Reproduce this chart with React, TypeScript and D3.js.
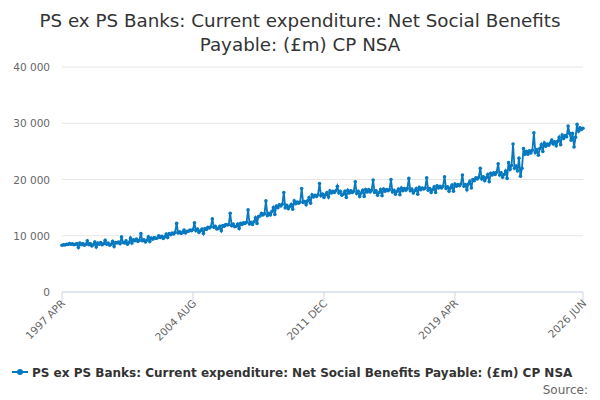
import React from 'react';
import * as d3 from 'd3';

const MONTHS = ['JAN', 'FEB', 'MAR', 'APR', 'MAY', 'JUN', 'JUL', 'AUG', 'SEP', 'OCT', 'NOV', 'DEC'];
const START_YEAR = 1997;
const START_MONTH = 3; // APR

// monthly values (£m), by calendar year
const y1997 = [8300, 8400, 8350, 8500, 8450, 8600, 8500, 8550, 8400];
const y1998 = [8500, 8600, 7900, 8700, 8400, 8600, 8300, 8500, 9100, 8400, 8600, 8200];
const y1999 = [8400, 8900, 8000, 8700, 8500, 8800, 8400, 8600, 9200, 8500, 8700, 8300];
const y2000 = [8500, 9000, 8100, 8800, 8700, 8900, 8600, 9800, 8800, 8700, 9100, 8500];
const y2001 = [8800, 9600, 8700, 9300, 9100, 9400, 9000, 9200, 10400, 9100, 9300, 8900];
const y2002 = [9200, 9800, 9000, 9600, 9400, 9700, 9500, 9600, 10000, 9700, 9900, 9500];
const y2003 = [9800, 10300, 9700, 10400, 10200, 10500, 10300, 10600, 12200, 10500, 10700, 10400];
const y2004 = [10600, 11000, 10500, 10800, 10800, 11000, 10900, 11100, 12300, 10900, 11200, 10600];
const y2005 = [10900, 11200, 10400, 11300, 11100, 11500, 11400, 11600, 13000, 11500, 11700, 11200];
const y2006 = [11300, 11700, 10900, 11800, 11700, 12000, 11900, 12000, 14000, 11800, 12100, 11600];
const y2007 = [11700, 12100, 11300, 12200, 12000, 12300, 12200, 12400, 14600, 12100, 12400, 12000];
const y2008 = [12500, 13200, 12200, 13400, 13500, 14000, 13700, 13900, 16200, 13600, 14000, 13700];
const y2009 = [14300, 15000, 13800, 15300, 15000, 15500, 15300, 15600, 17700, 15000, 15400, 14800];
const y2010 = [15200, 15600, 14700, 16200, 15700, 16000, 15800, 16000, 18400, 15900, 16100, 15500];
const y2011 = [16200, 16800, 15800, 17300, 16900, 17200, 17000, 17300, 19300, 17100, 17400, 16800];
const y2012 = [17300, 17700, 16900, 18000, 17600, 17900, 17700, 18000, 18800, 17600, 17900, 17200];
const y2013 = [17400, 17900, 16800, 18100, 17600, 18000, 17700, 17900, 19600, 17500, 17900, 17000];
const y2014 = [17600, 18100, 17000, 18200, 17800, 18200, 17800, 18100, 19900, 17700, 18000, 17200];
const y2015 = [17700, 18200, 17100, 18300, 17900, 18200, 18000, 18200, 20000, 17800, 18100, 17400];
const y2016 = [17900, 18300, 17300, 18500, 18000, 18400, 18100, 18400, 20200, 18000, 18300, 17600];
const y2017 = [18000, 18400, 17400, 18600, 18200, 18500, 18300, 18500, 20300, 18100, 18400, 17700];
const y2018 = [18200, 18700, 17700, 18900, 18500, 18800, 18500, 18800, 20500, 18400, 18700, 17900];
const y2019 = [18500, 19000, 17900, 19200, 18800, 19100, 18900, 19200, 20800, 18800, 19100, 18200];
const y2020 = [19200, 19700, 18500, 20000, 19800, 20300, 20100, 20400, 22000, 20100, 20500, 19800];
const y2021 = [20300, 20900, 19600, 21100, 20800, 21200, 20900, 21300, 22800, 20800, 21200, 20400];
const y2022 = [20900, 21500, 20200, 23000, 21800, 22500, 26300, 22000, 22400, 21500, 23800, 20600];
const y2023 = [22000, 25500, 24500, 25000, 24500, 25100, 24700, 25200, 28300, 24800, 25300, 24300];
const y2024 = [25500, 26200, 25000, 26500, 25900, 26300, 26100, 26500, 27000, 26300, 26700, 26000];
const y2025 = [26800, 27500, 26200, 27900, 27300, 27800, 27600, 29500, 28200, 27000, 28200, 25800];
const y2026 = [27500, 29800, 28600, 29200, 28900, 29100];

const values = [
  ...y1997, ...y1998, ...y1999, ...y2000, ...y2001, ...y2002, ...y2003, ...y2004, ...y2005, ...y2006,
  ...y2007, ...y2008, ...y2009, ...y2010, ...y2011, ...y2012, ...y2013, ...y2014, ...y2015, ...y2016,
  ...y2017, ...y2018, ...y2019, ...y2020, ...y2021, ...y2022, ...y2023, ...y2024, ...y2025, ...y2026,
];

const yTicks = [0, 10000, 20000, 30000, 40000];
const xTickIndex = [0, 88, 176, 264, 350];

const label = (i: number) => {
  const m = START_MONTH + i;
  return `${START_YEAR + Math.floor(m / 12)} ${MONTHS[m % 12]}`;
};

const TITLE = ['PS ex PS Banks: Current expenditure: Net Social Benefits', 'Payable: (£m) CP NSA'];
const SERIES = 'PS ex PS Banks: Current expenditure: Net Social Benefits Payable: (£m) CP NSA';
const BLUE = '#0779bf';

export default function App() {
  const width = 600;
  const height = 400;
  const margin = { top: 67, right: 17, bottom: 108, left: 62 };

  const x = d3.scaleLinear().domain([0, values.length - 1]).range([margin.left, width - margin.right]);
  const y = d3.scaleLinear().domain([0, 40000]).range([height - margin.bottom, margin.top]);
  const fmt = (v: number) => d3.format(',')(v).replace(/,/g, ' ');

  const line = d3.line<number>().x((_, i) => x(i)).y(d => y(d));

  return (
    <svg width={width} height={height} style={{ position: 'absolute', left: 0, top: 0, fontFamily: '"DejaVu Sans", sans-serif' }}>
      <rect width={width} height={height} fill="#fff" />
      {TITLE.map((t, i) => (
        <text key={i} x={width / 2} y={27 + i * 24} textAnchor="middle" fontSize={18.3} fill="#333">{t}</text>
      ))}
      {yTicks.map(t => (
        <g key={t}>
          <line x1={margin.left} x2={width - margin.right} y1={y(t)} y2={y(t)} stroke="#e6e6e6" />
          <text x={margin.left - 12} y={y(t) + 4} textAnchor="end" fontSize={10.5} fill="#666">{fmt(t)}</text>
        </g>
      ))}
      <line x1={margin.left} x2={width - margin.right} y1={y(0)} y2={y(0)} stroke="#ccd6eb" />
      {xTickIndex.map(i => (
        <g key={i}>
          <line x1={x(i)} x2={x(i)} y1={y(0)} y2={y(0) + 10} stroke="#ccd6eb" />
          <text transform={`translate(${x(i) + 4},${y(0) + 12}) rotate(-45)`} textAnchor="end" fontSize={10.5} fill="#666">{label(i)}</text>
        </g>
      ))}
      <path d={line(values) ?? ''} fill="none" stroke={BLUE} strokeWidth={1.8} />
      {values.map((v, i) => (
        <circle key={i} cx={x(i)} cy={y(v)} r={1.8} fill={BLUE} />
      ))}
      <g transform="translate(12,372)">
        <line x1={0} x2={16} y1={0} y2={0} stroke={BLUE} strokeWidth={2} />
        <circle cx={8} cy={0} r={3} fill={BLUE} />
        <text x={20} y={4.5} fontSize={12} fontWeight="bold" fill="#333">{SERIES}</text>
      </g>
      <text x={588} y={394} textAnchor="end" fontSize={12} fill="#666">Source:</text>
    </svg>
  );
}
